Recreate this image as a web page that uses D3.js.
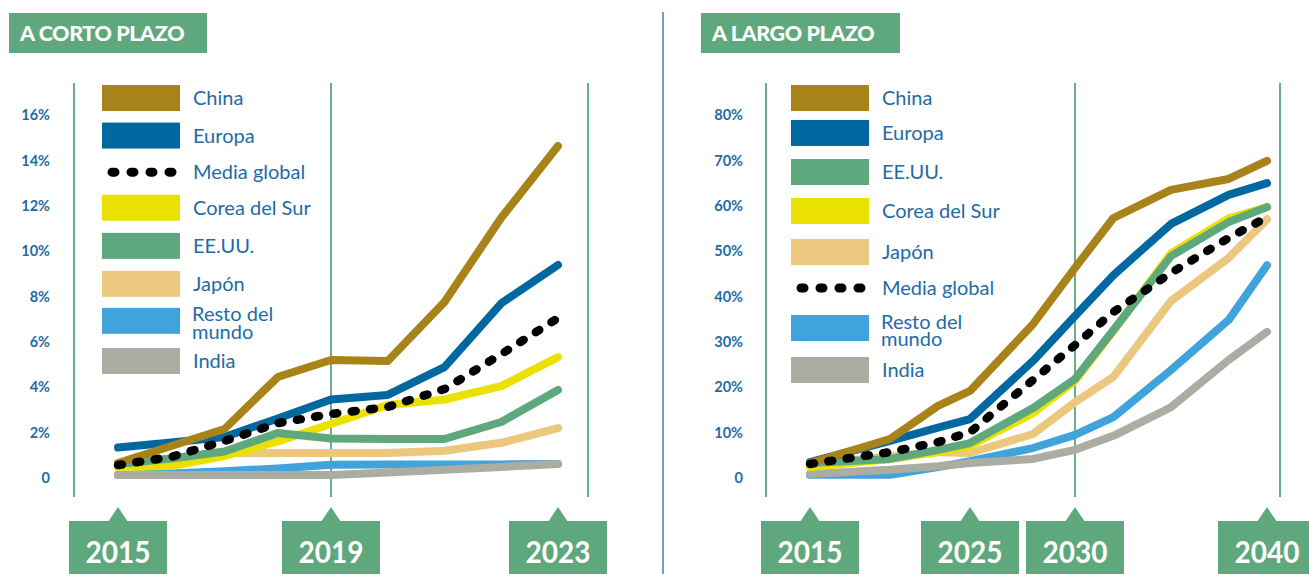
<!DOCTYPE html>
<html>
<head>
<meta charset="utf-8">
<script src="https://cdn.jsdelivr.net/npm/d3@7"></script>
<style>
  html, body { margin: 0; padding: 0; background: #ffffff; }
  svg { display: block; font-family: Lato, "Open Sans", sans-serif; }
</style>
</head>
<body>
<svg id="chart" width="1309" height="574"></svg>
<script>
// ---------------- DATA ----------------
// Short term (A CORTO PLAZO), values in %
const shortYears   = [2015, 2016, 2017, 2018, 2019, 2020, 2021, 2022, 2023];
const shortChina   = [0.66, 1.41, 2.16, 4.45, 5.2, 5.16, 7.76, 11.47, 14.63];
const shortEuropa  = [1.34, 1.56, 1.81, 2.62, 3.46, 3.66, 4.89, 7.7, 9.39];
const shortMedia   = [0.57, 0.93, 1.63, 2.42, 2.82, 3.13, 3.92, 5.46, 7.05];
const shortCorea   = [0.48, 0.53, 0.97, 1.61, 2.38, 3.22, 3.46, 4.05, 5.33];
const shortEEUU    = [0.62, 0.86, 1.17, 1.98, 1.74, 1.72, 1.72, 2.47, 3.88];
const shortJapon   = [0.57, 0.86, 1.1, 1.1, 1.1, 1.1, 1.2, 1.55, 2.2];
const shortResto   = [0.13, 0.2, 0.3, 0.42, 0.58, 0.6, 0.6, 0.6, 0.62];
const shortIndia   = [0.13, 0.13, 0.13, 0.13, 0.13, 0.24, 0.36, 0.49, 0.62];
const shortTicks      = [0, 2, 4, 6, 8, 10, 12, 14, 16];
const shortTickLabels = ["0", "2%", "4%", "6%", "8%", "10%", "12%", "14%", "16%"];
const shortBadges  = [2015, 2019, 2023];
const shortLegend  = ["China", "Europa", "Media global", "Corea del Sur", "EE.UU.", "Japón", "Resto del mundo", "India"];

// Long term (A LARGO PLAZO), values in %
const longYears    = [2015, 2020, 2023, 2025, 2028, 2030, 2032, 2035, 2038, 2040];
const longChina    = [3.3, 8.6, 15.9, 19.2, 33.9, 46.3, 57.3, 63.5, 65.9, 69.9];
const longEuropa   = [3.5, 8.2, 11.1, 13.0, 25.8, 35.7, 44.7, 56.0, 62.4, 65.0];
const longEEUU     = [3.3, 4.2, 6.2, 7.7, 15.4, 21.8, 32.6, 48.9, 56.4, 59.7];
const longCorea    = [2.4, 4.2, 5.7, 7.1, 14.3, 21.4, 32.4, 49.5, 57.2, 59.7];
const longJapon    = [2.9, 4.8, 5.7, 5.5, 9.7, 16.7, 22.3, 39.0, 48.5, 57.0];
const longMedia    = [3.1, 5.7, 7.9, 10.1, 21.6, 29.3, 36.6, 45.2, 52.9, 57.5];
const longResto    = [0.7, 0.7, 2.4, 3.7, 6.6, 9.5, 13.4, 23.8, 34.8, 46.9];
const longIndia    = [0.9, 1.8, 2.6, 3.3, 4.2, 6.2, 9.3, 15.6, 26.0, 32.2];
const longTicks       = [0, 10, 20, 30, 40, 50, 60, 70, 80];
const longTickLabels  = ["0", "10%", "20%", "30%", "40%", "50%", "60%", "70%", "80%"];
const longBadges   = [2015, 2025, 2030, 2040];
const longLegend   = ["China", "Europa", "EE.UU.", "Corea del Sur", "Japón", "Media global", "Resto del mundo", "India"];

// ---------------- STYLE ----------------
const COLORS = {
  "China": "#a8831a",
  "Europa": "#0068a1",
  "Media global": "#000000",
  "Corea del Sur": "#ebe100",
  "EE.UU.": "#5fa87e",
  "Japón": "#ecc77e",
  "Resto del mundo": "#41a3dc",
  "India": "#abaca2"
};
const GREEN = "#5fa87e";
const FRAME = "#68ae87";
const TEXTBLUE = "#1e6ba6";
const DRAW_ORDER = ["Resto del mundo", "India", "Japón", "Corea del Sur", "EE.UU.", "Europa", "China", "Media global"];

const svg = d3.select("#chart");

function drawPanel(cfg) {
  const g = svg.append("g");
  const x = d3.scaleLinear().domain(cfg.xDomain).range(cfg.xRange);
  const y = d3.scaleLinear().domain([0, cfg.yMax]).range([478, 115]);

  // title
  g.append("rect").attr("x", cfg.titleX).attr("y", 13).attr("width", cfg.titleW).attr("height", 40).attr("fill", GREEN);
  g.append("text").attr("x", cfg.titleX + 11).attr("y", 41)
    .attr("fill", "#fff").attr("font-size", 21.5).attr("font-weight", 900)
    .attr("letter-spacing", "-0.4px")
    .text(cfg.title);

  // frame lines
  g.selectAll("line.frame").data(cfg.frame).join("line")
    .attr("class", "frame")
    .attr("x1", d => d).attr("x2", d => d)
    .attr("y1", 83).attr("y2", 497)
    .attr("stroke", FRAME).attr("stroke-width", 2);

  // y axis labels
  const axis = d3.axisLeft(y).tickValues(cfg.ticks).tickSize(0).tickPadding(0)
    .tickFormat((d, i) => cfg.tickLabels[i]);
  const ag = g.append("g").attr("transform", `translate(${cfg.labelX},0)`).call(axis);
  ag.select(".domain").remove();
  ag.selectAll("text").attr("fill", TEXTBLUE).attr("font-size", 14.5).attr("font-weight", 700)
    .attr("font-family", "Lato, sans-serif");

  // legend
  const ly = d3.scalePoint().domain(cfg.legend).range(cfg.legendRange);
  cfg.legend.forEach(name => {
    const cy = ly(name) + (cfg.legendShift[name] || 0);
    if (name === "Media global") {
      g.append("line").attr("x1", cfg.legendX + 10).attr("x2", cfg.legendX + 71)
        .attr("y1", cy).attr("y2", cy)
        .attr("stroke", "#000").attr("stroke-width", 9)
        .attr("stroke-linecap", "round").attr("stroke-dasharray", "3 16");
    } else {
      g.append("rect").attr("x", cfg.legendX).attr("y", cy - 13)
        .attr("width", 78).attr("height", 26).attr("fill", COLORS[name]);
    }
    const t = g.append("text").attr("x", cfg.legendX + 91).attr("fill", TEXTBLUE)
      .attr("font-size", 20);
    if (name === "Resto del mundo") {
      t.append("tspan").attr("x", cfg.legendX + 90).attr("y", cy + 0.5).text("Resto del");
      t.append("tspan").attr("x", cfg.legendX + 90).attr("y", cy + 18).text("mundo");
    } else {
      t.attr("y", cy).attr("dy", "0.35em").text(name);
    }
  });

  // lines
  const line = d3.line().x(d => x(d[0])).y(d => y(d[1]));
  DRAW_ORDER.forEach(name => {
    const vals = cfg.series[name];
    const pts = cfg.years.map((yr, i) => [yr, vals[i]]);
    const p = g.append("path").attr("d", line(pts))
      .attr("fill", "none").attr("stroke", COLORS[name])
      .attr("stroke-width", 8).attr("stroke-linecap", "round").attr("stroke-linejoin", "round");
    if (name === "Media global") p.attr("stroke-dasharray", "4 14.5").attr("stroke-width", 8.5);
  });

  // year badges
  cfg.badges.forEach(yr => {
    const cx = x(yr);
    g.append("rect").attr("x", cx - 49).attr("y", 521).attr("width", 98).attr("height", 60).attr("fill", GREEN);
    g.append("path").attr("d", `M${cx - 10},522 L${cx},507 L${cx + 10},522 Z`).attr("fill", GREEN);
    g.append("text").attr("x", cx).attr("y", 563).attr("text-anchor", "middle")
      .attr("fill", "#fff").attr("font-size", 30).attr("font-weight", 700)
      .attr("textLength", 65).attr("lengthAdjust", "spacingAndGlyphs")
      .text(yr);
  });
}

drawPanel({
  title: "A CORTO PLAZO", titleX: 9, titleW: 198,
  frame: [74, 331, 588],
  xDomain: [2015, 2019, 2023], xRange: [118, 331, 558],
  yMax: 16, ticks: shortTicks, tickLabels: shortTickLabels, labelX: 50,
  legend: shortLegend, legendRange: [98, 361], legendX: 102,
  legendShift: {"Media global": -1, "Corea del Sur": -3, "EE.UU.": -2.4, "Japón": -2, "Resto del mundo": -2.6},
  years: shortYears,
  series: {"China": shortChina, "Europa": shortEuropa, "Media global": shortMedia, "Corea del Sur": shortCorea,
           "EE.UU.": shortEEUU, "Japón": shortJapon, "Resto del mundo": shortResto, "India": shortIndia},
  badges: shortBadges
});

drawPanel({
  title: "A LARGO PLAZO", titleX: 701, titleW: 199,
  frame: [766, 1075, 1280],
  xDomain: [2015, 2025, 2030, 2040], xRange: [810, 970, 1075, 1267],
  yMax: 80, ticks: longTicks, tickLabels: longTickLabels, labelX: 743,
  legend: longLegend, legendRange: [98, 370], legendX: 791,
  legendShift: {"Europa": -3.9, "EE.UU.": -3.7, "Corea del Sur": -3.6, "Japón": -1.4, "Media global": -4.3, "Resto del mundo": -3.1},
  years: longYears,
  series: {"China": longChina, "Europa": longEuropa, "Media global": longMedia, "Corea del Sur": longCorea,
           "EE.UU.": longEEUU, "Japón": longJapon, "Resto del mundo": longResto, "India": longIndia},
  badges: longBadges
});

// divider between panels
svg.append("line").attr("x1", 663).attr("x2", 663).attr("y1", 12).attr("y2", 574)
  .attr("stroke", "#3a83bb").attr("stroke-width", 1.5);
</script>
</body>
</html>
